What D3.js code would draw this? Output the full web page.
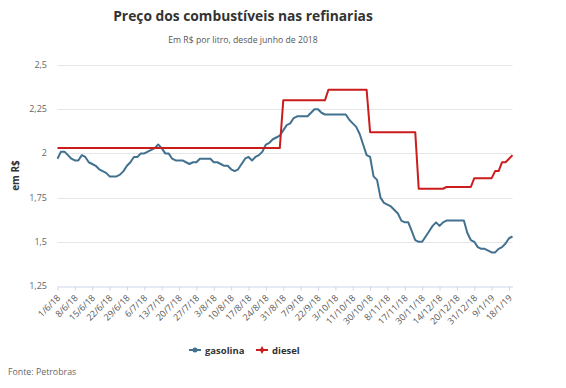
<!DOCTYPE html>
<html>
<head>
<meta charset="utf-8">
<script src="https://cdn.jsdelivr.net/npm/d3@7"></script>
<style>
  body { margin: 0; background: #fff; }
  svg { font-family: "Open Sans", sans-serif; }
</style>
</head>
<body>
<script>
var width = 566;
var height = 388;

// tick labels, one every 5 quotes
var tickLabels = ["1/6/18","8/6/18","15/6/18","22/6/18","29/6/18","6/7/18","13/7/18","20/7/18",
  "27/7/18","3/8/18","10/8/18","17/8/18","24/8/18","31/8/18","7/9/18","22/9/18","3/10/18",
  "11/10/18","30/10/18","8/11/18","17/11/18","30/11/18","14/12/18","20/12/18","31/12/18",
  "9/1/19","18/1/19"];

var gasolina = [1.97,2.01,2.01,1.99,1.97,1.96,1.96,1.99,1.98,1.95,
  1.94,1.93,1.91,1.90,1.89,1.87,1.87,1.87,1.88,1.90,
  1.93,1.95,1.98,1.98,2.00,2.00,2.01,2.02,2.03,2.05,
  2.03,2.00,2.00,1.97,1.96,1.96,1.96,1.95,1.94,1.95,
  1.95,1.97,1.97,1.97,1.97,1.95,1.95,1.94,1.93,1.93,
  1.91,1.90,1.91,1.94,1.97,1.98,1.96,1.98,1.99,2.01,
  2.05,2.06,2.08,2.09,2.10,2.13,2.16,2.17,2.20,2.21,
  2.21,2.21,2.21,2.23,2.25,2.25,2.23,2.22,2.22,2.22,
  2.22,2.22,2.22,2.22,2.19,2.17,2.15,2.11,2.05,1.99,
  1.98,1.87,1.85,1.75,1.72,1.71,1.70,1.68,1.66,1.62,
  1.61,1.61,1.56,1.51,1.50,1.50,1.53,1.56,1.59,1.61,
  1.59,1.61,1.62,1.62,1.62,1.62,1.62,1.62,1.55,1.51,
  1.50,1.47,1.46,1.46,1.45,1.44,1.44,1.46,1.47,1.49,
  1.52,1.53];

var diesel = [2.03,2.03,2.03,2.03,2.03,2.03,2.03,2.03,2.03,2.03,
  2.03,2.03,2.03,2.03,2.03,2.03,2.03,2.03,2.03,2.03,
  2.03,2.03,2.03,2.03,2.03,2.03,2.03,2.03,2.03,2.03,
  2.03,2.03,2.03,2.03,2.03,2.03,2.03,2.03,2.03,2.03,
  2.03,2.03,2.03,2.03,2.03,2.03,2.03,2.03,2.03,2.03,
  2.03,2.03,2.03,2.03,2.03,2.03,2.03,2.03,2.03,2.03,
  2.03,2.03,2.03,2.03,2.03,2.30,2.30,2.30,2.30,2.30,
  2.30,2.30,2.30,2.30,2.30,2.30,2.30,2.30,2.36,2.36,
  2.36,2.36,2.36,2.36,2.36,2.36,2.36,2.36,2.36,2.36,
  2.12,2.12,2.12,2.12,2.12,2.12,2.12,2.12,2.12,2.12,
  2.12,2.12,2.12,2.12,1.80,1.80,1.80,1.80,1.80,1.80,
  1.80,1.80,1.81,1.81,1.81,1.81,1.81,1.81,1.81,1.81,
  1.86,1.86,1.86,1.86,1.86,1.86,1.90,1.90,1.95,1.95,
  1.97,1.99];

var yTicks = [1.25, 1.5, 1.75, 2, 2.25, 2.5];

var series = [
  {name: "gasolina", values: gasolina, color: "#41718f"},
  {name: "diesel", values: diesel, color: "#cc1d1d"}
];

var plot = {left: 57.5, right: 512.5, top: 65, bottom: 286};

var svg = d3.select("body")
    .append("svg")
    .attr("width", width)
    .attr("height", height);

var x = d3.scaleLinear()
    .domain([0, gasolina.length - 1])
    .range([plot.left, plot.right]);

var y = d3.scaleLinear()
    .domain([1.25, 2.5])
    .range([plot.bottom, plot.top]);

var fmt = function(d) { return String(d).replace(".", ","); };

// title + subtitle
svg.append("text")
    .attr("x", 243)
    .attr("y", 21)
    .attr("text-anchor", "middle")
    .attr("font-size", "13.8px")
    .attr("font-weight", "bold")
    .attr("fill", "#333")
    .text("Preço dos combustíveis nas refinarias");

svg.append("text")
    .attr("x", 243)
    .attr("y", 43)
    .attr("text-anchor", "middle")
    .attr("font-size", "8.7px")
    .attr("fill", "#555")
    .text("Em R$ por litro, desde junho de 2018");

// grid lines
svg.append("g")
  .selectAll("line")
  .data(yTicks.slice(1))
  .enter()
  .append("line")
    .attr("x1", plot.left)
    .attr("x2", plot.right)
    .attr("y1", function(d) { return Math.round(y(d)) + 0.5; })
    .attr("y2", function(d) { return Math.round(y(d)) + 0.5; })
    .attr("stroke", "#e6e6e6");

// y axis labels
svg.append("g")
  .selectAll("text")
  .data(yTicks)
  .enter()
  .append("text")
    .attr("x", 47)
    .attr("y", function(d) { return y(d) + 3; })
    .attr("text-anchor", "end")
    .attr("font-size", "9px")
    .attr("fill", "#666")
    .text(fmt);

svg.append("text")
    .attr("transform", "translate(19," + ((plot.top + plot.bottom) / 2) + ") rotate(-90)")
    .attr("text-anchor", "middle")
    .attr("font-size", "10px")
    .attr("font-weight", "bold")
    .attr("fill", "#333")
    .text("em R$");

// x axis
var xAxis = d3.axisBottom(x)
    .tickValues(d3.range(0, gasolina.length, 5))
    .tickFormat(function(d, i) { return tickLabels[i]; })
    .tickSize(4)
    .tickSizeOuter(0);

var gx = svg.append("g")
    .attr("transform", "translate(0," + (plot.bottom + 0.5) + ")")
    .call(xAxis);

gx.select(".domain").attr("stroke", "#ccd6eb");
gx.selectAll(".tick line").attr("stroke", "#ccd6eb");
gx.selectAll(".tick text")
    .attr("font-family", "'Open Sans', sans-serif")
    .attr("font-size", "9px")
    .attr("fill", "#555")
    .attr("text-anchor", "end")
    .attr("dy", null)
    .attr("y", 0)
    .attr("transform", "translate(3,12) rotate(-45)");

// lines
var line = d3.line()
    .x(function(d, i) { return x(i); })
    .y(function(d) { return y(d); });

svg.append("g")
  .selectAll("path")
  .data(series)
  .enter()
  .append("path")
    .attr("d", function(d) { return line(d.values); })
    .attr("fill", "none")
    .attr("stroke", function(d) { return d.color; })
    .attr("stroke-width", 2)
    .attr("stroke-linejoin", "round");

// legend
var legend = svg.append("g")
  .selectAll("g")
  .data(series)
  .enter()
  .append("g")
    .attr("transform", function(d, i) { return "translate(" + (189 + i * 67) + ",350)"; });

legend.append("line")
    .attr("x1", 0)
    .attr("x2", 12)
    .attr("stroke", function(d) { return d.color; })
    .attr("stroke-width", 2);

legend.append("path")
    .attr("d", function(d, i) {
        return i === 0 ? d3.symbol(d3.symbolCircle, 20)() : d3.symbol(d3.symbolDiamond, 18)();
    })
    .attr("transform", "translate(6,0)")
    .attr("fill", function(d) { return d.color; });

legend.append("text")
    .attr("x", 16)
    .attr("y", 3.5)
    .attr("font-size", "9.5px")
    .attr("font-weight", "bold")
    .attr("fill", "#333")
    .text(function(d) { return d.name; });

svg.append("text")
    .attr("x", 8)
    .attr("y", 375)
    .attr("font-size", "8.8px")
    .attr("fill", "#666")
    .text("Fonte: Petrobras");
</script>
</body>
</html>
